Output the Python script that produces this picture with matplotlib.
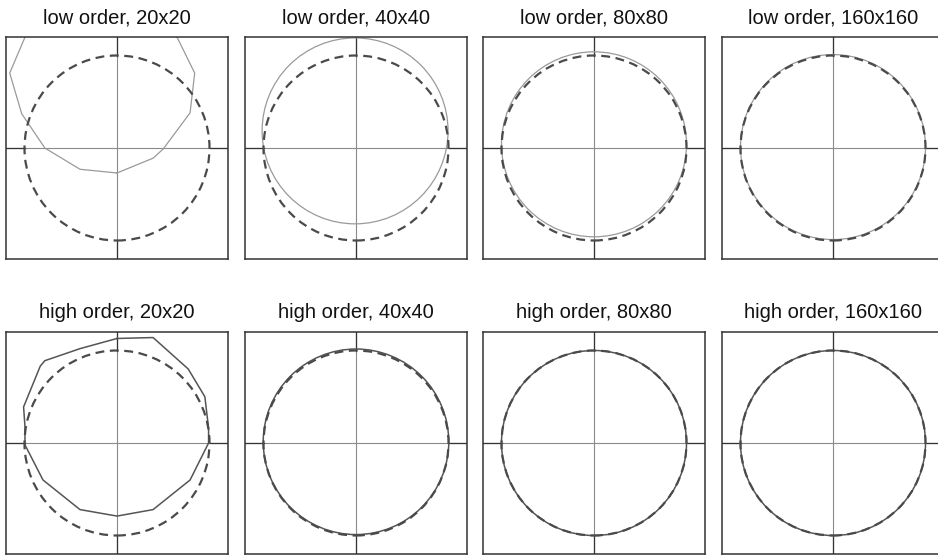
import matplotlib
matplotlib.use("Agg")
import matplotlib.pyplot as plt
from matplotlib.patches import Circle

plt.rcParams['font.family'] = ['Liberation Sans', 'DejaVu Sans']

grids = ["20x20", "40x40", "80x80", "160x160"]
orders = ["low order", "high order"]

# exact interface (dashed): unit circle
true_radius = 1.0

# coarse 20x20 results, vertices
low_20_x = [0.00, 0.39, 0.50, 0.79, 0.84, 0.55, 0.00, -0.90, -1.16, -1.03, -0.78, -0.40, 0.00]
low_20_y = [-0.27, -0.11, -0.01, 0.38, 0.81, 1.40, 1.75, 1.42, 0.81, 0.37, 0.00, -0.23, -0.27]
high_20_x = [0.00, 0.39, 0.77, 0.95, 0.99, 0.99, 0.79, 0.39, 0.00, -0.40, -0.80, -0.995, -0.995, -1.01, -0.83, -0.78, -0.40, 0.00]
high_20_y = [1.13, 1.14, 0.80, 0.50, 0.16, 0.00, -0.40, -0.72, -0.79, -0.72, -0.40, -0.02, 0.18, 0.39, 0.83, 0.89, 1.02, 1.13]

# finer grids: computed contour centre (x, y) and radius
low_fine_cx = [-0.01, 0.00, 0.00]
low_fine_cy = [0.185, 0.04, 0.01]
low_fine_r = [1.005, 1.00, 1.00]
high_fine_cx = [0.00, 0.00, 0.00]
high_fine_cy = [0.013, 0.00, 0.00]
high_fine_r = [1.003, 1.00, 1.00]

W, H = 938, 557
fig = plt.figure(figsize=(W / 100, H / 100), dpi=100)

lefts = [6, 245, 483, 722]
tops = [37, 332]
size = 222
lim = 1.2

solid_colors = ["#9a9a9a", "#555555"]
solid_widths = [0.9, 1.1]

for row in range(2):
    for col in range(4):
        ax = fig.add_axes([lefts[col] / W, 1 - (tops[row] + size) / H, size / W, size / H])
        ax.set_xlim(-lim, lim)
        ax.set_ylim(-lim, lim)
        ax.set_xticks([])
        ax.set_yticks([])
        for s in ax.spines.values():
            s.set_color("#333333")
            s.set_linewidth(1.1)

        # crosshair
        ax.axhline(0, color="#8a8a8a", lw=0.8, zorder=1)
        ax.axvline(0, color="#8a8a8a", lw=0.8, zorder=1)
        for sgn in (-1, 1):
            ax.plot([sgn * true_radius, sgn * lim], [0, 0], color="#333333", lw=0.9, zorder=1.5)
            ax.plot([0, 0], [sgn * true_radius, sgn * lim], color="#333333", lw=0.9, zorder=1.5)

        c = solid_colors[row]
        w = solid_widths[row]
        if col == 0:
            if row == 0:
                ax.plot(low_20_x, low_20_y, color=c, lw=w, zorder=2)
            else:
                ax.plot(high_20_x, high_20_y, color=c, lw=w, zorder=2)
        else:
            if row == 0:
                cx, cy, r = low_fine_cx[col - 1], low_fine_cy[col - 1], low_fine_r[col - 1]
            else:
                cx, cy, r = high_fine_cx[col - 1], high_fine_cy[col - 1], high_fine_r[col - 1]
            ax.add_patch(Circle((cx, cy), r, fill=False, edgecolor=c, lw=w, zorder=2))

        ax.add_patch(Circle((0, 0), true_radius, fill=False, edgecolor="#4a4a4a",
                            lw=1.6, linestyle=(0, (4, 2.5)), zorder=3))

        ax.set_title(f"{orders[row]}, {grids[col]}", fontsize=14.5, color="#111111", pad=10)

fig.savefig("out.png", dpi=100)
